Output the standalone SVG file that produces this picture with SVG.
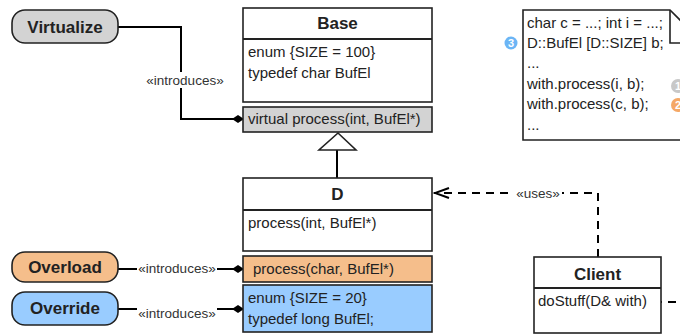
<svg xmlns="http://www.w3.org/2000/svg" width="680" height="334" viewBox="0 0 680 334">
  <style>
    text { font-family: "Liberation Sans", Arial, sans-serif; fill: #222; }
    .t { font-size: 15px; }
    .name { font-size: 17px; font-weight: bold; text-anchor: middle; }
    .lbl { font-size: 13.5px; text-anchor: middle; fill: #333; }
    .box { fill: #fff; stroke: #222; stroke-width: 1.6; }
    .sep { stroke: #222; stroke-width: 2; }
    .pill { stroke: #222; stroke-width: 1.6; }
    .wire { fill: none; stroke: #000; stroke-width: 2; }
    .dash { fill: none; stroke: #000; stroke-width: 2; stroke-dasharray: 8 6; }
    .badge { font-size: 11px; font-weight: bold; fill: #fff; text-anchor: middle; }
  </style>
  <defs>
    <marker id="diamond" viewBox="0 0 12 10" refX="11" refY="5" markerWidth="12" markerHeight="10" markerUnits="userSpaceOnUse" orient="auto">
      <path d="M0,5 L6,1 L12,5 L6,9 Z" fill="#000"/>
    </marker>
    <marker id="open" viewBox="0 0 17 12" refX="16" refY="6" markerWidth="17" markerHeight="12" markerUnits="userSpaceOnUse" orient="auto">
      <path d="M1,1 L15,6 L1,11" fill="none" stroke="#000" stroke-width="2"/>
    </marker>
  </defs>

  <!-- connectors -->
  <g id="connectors">
    <path class="wire" d="M118,27 H181 V119 H243" marker-end="url(#diamond)"/>
    <rect x="145" y="72" width="80" height="16" fill="#fff"/>
    <text class="lbl" x="185" y="85">«introduces»</text>

    <path class="wire" d="M118,269 H243" marker-end="url(#diamond)"/>
    <rect x="137" y="261" width="80" height="16" fill="#fff"/>
    <text class="lbl" x="177" y="273">«introduces»</text>

    <path class="wire" d="M118,309 H243" marker-end="url(#diamond)"/>
    <rect x="137" y="304" width="80" height="16" fill="#fff"/>
    <text class="lbl" x="177" y="318">«introduces»</text>

    <!-- generalization D -> Base -->
    <path class="wire" stroke-width="1.6" d="M337,178 V150"/>
    <path d="M338,133 L356,150 H319 Z" fill="#fff" stroke="#222" stroke-width="1.6"/>

    <!-- dependency Client -> D -->
    <path class="dash" d="M598,257 V193 H434" marker-end="url(#open)"/>
    <rect x="514" y="186" width="48" height="15" fill="#fff"/>
    <text class="lbl" x="538" y="198">«uses»</text>

    <!-- Client -> note -->
    <circle cx="655" cy="302" r="2.6" fill="#000"/>
    <path class="dash" d="M657,302 H662 M668,302 H680"/>
  </g>

  <!-- concept pills -->
  <g id="virtualize">
    <rect class="pill" x="12" y="10" width="106" height="33" rx="13" fill="#d3d3d3"/>
    <text class="name" x="65" y="33">Virtualize</text>
  </g>
  <g id="overload">
    <rect class="pill" x="12" y="252" width="106" height="30" rx="13" fill="#f5be8b"/>
    <text class="name" x="65" y="273">Overload</text>
  </g>
  <g id="override">
    <rect class="pill" x="12" y="292" width="106" height="33" rx="13" fill="#99ccff"/>
    <text class="name" x="65" y="314">Override</text>
  </g>

  <!-- class Base -->
  <g id="base">
    <rect class="box" x="243" y="8" width="189" height="94"/>
    <line class="sep" x1="243" y1="39" x2="432" y2="39"/>
    <text class="name" x="337.5" y="29">Base</text>
    <text class="t" x="248" y="57">enum {SIZE = 100}</text>
    <text class="t" x="248" y="78">typedef char BufEl</text>
    <rect class="box" x="243" y="107" width="189" height="25" style="fill:#d3d3d3"/>
    <text class="t" x="248" y="124">virtual process(int, BufEl*)</text>
  </g>

  <!-- class D -->
  <g id="d">
    <rect class="box" x="243" y="178" width="189" height="73"/>
    <line class="sep" x1="243" y1="210" x2="432" y2="210"/>
    <text class="name" x="337.5" y="200">D</text>
    <text class="t" x="248" y="228">process(int, BufEl*)</text>
    <rect class="box" x="243" y="256" width="189" height="26" style="fill:#f5be8b"/>
    <text class="t" x="253" y="274">process(char, BufEl*)</text>
    <rect class="box" x="243" y="285" width="189" height="47" style="fill:#99ccff"/>
    <text class="t" x="248" y="303">enum {SIZE = 20}</text>
    <text class="t" x="248" y="324">typedef long BufEl;</text>
  </g>

  <!-- class Client -->
  <g id="client">
    <rect class="box" x="534" y="257" width="127" height="76"/>
    <line class="sep" x1="534" y1="288" x2="661" y2="288"/>
    <text class="name" x="597.5" y="280">Client</text>
    <text class="t" x="538" y="306">doStuff(D&amp; with)</text>
  </g>

  <!-- code note -->
  <g id="note">
    <path d="M523,10 H670 L703,43 V140 H523 Z" fill="#fff" stroke="#222" stroke-width="1.6"/>
    <path d="M670,10 V43 H703" fill="none" stroke="#222" stroke-width="1.6"/>
    <text class="t" x="527" y="28">char c = ...; int i = ...;</text>
    <text class="t" x="527" y="48">D::BufEl [D::SIZE] b;</text>
    <text class="t" x="527" y="68">...</text>
    <text class="t" x="527" y="89">with.process(i, b);</text>
    <text class="t" x="527" y="109">with.process(c, b);</text>
    <text class="t" x="527" y="130">...</text>
    <circle cx="511" cy="43" r="6.5" fill="#6bb5f5"/>
    <text class="badge" x="511" y="47">3</text>
    <circle cx="678" cy="86" r="7" fill="#c8c8c8"/>
    <text class="badge" x="678" y="90">1</text>
    <circle cx="678" cy="105" r="7" fill="#f5a866"/>
    <text class="badge" x="678" y="109">2</text>
  </g>
</svg>
